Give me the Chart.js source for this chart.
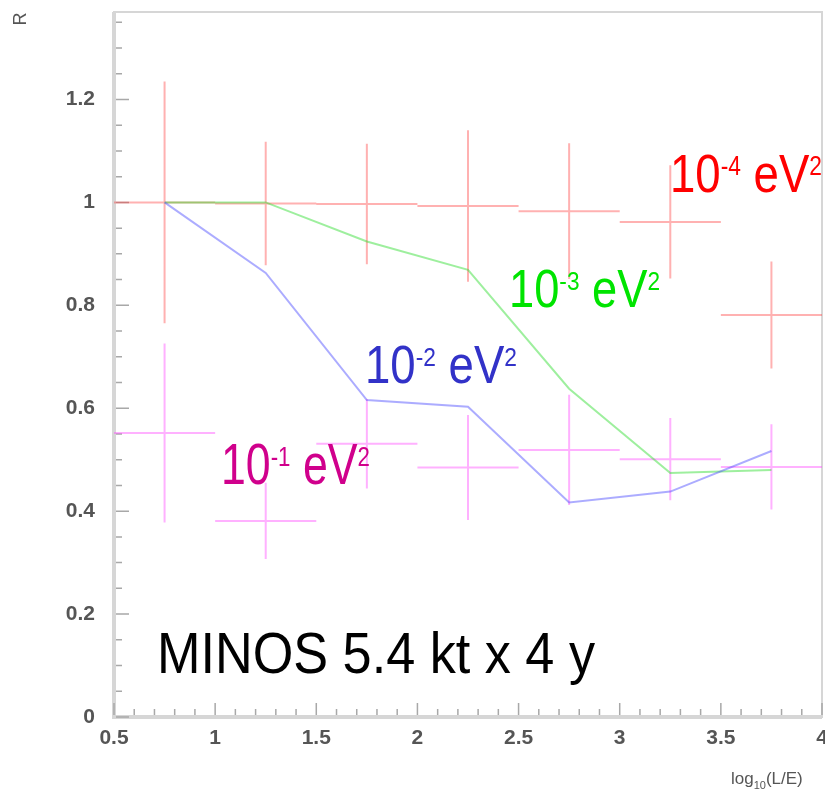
<!DOCTYPE html>
<html>
<head>
<meta charset="utf-8">
<title>R vs log10(L/E)</title>
<script src="https://cdn.jsdelivr.net/npm/chart.js@4.4.0/dist/chart.umd.min.js"></script>
<style>
  html, body { margin: 0; padding: 0; background: #fff; }
  #wrap { width: 825px; height: 793px; }
</style>
</head>
<body>
<div id="wrap"><canvas id="ratioChart" width="825" height="793"></canvas></div>
<script>
// bins in log10(L/E)
const binCenters = [0.75, 1.25, 1.75, 2.25, 2.75, 3.25, 3.75];
const binHalfWidth = 0.25;

// measured ratio with errors, two oscillation hypotheses
const ratioDm4 = [1.0, 0.998, 0.997, 0.993, 0.983, 0.962, 0.781];
const errDm4 = [0.235, 0.12, 0.117, 0.147, 0.132, 0.11, 0.104];
const ratioDm1 = [0.552, 0.381, 0.531, 0.485, 0.519, 0.501, 0.486];
const errDm1 = [0.174, 0.074, 0.087, 0.102, 0.107, 0.08, 0.083];

// expectation curves
const curveDm2 = [1.0, 0.863, 0.616, 0.603, 0.417, 0.438, 0.517];
const curveDm3 = [1.0, 1.0, 0.924, 0.869, 0.638, 0.474, 0.48];

// axes
const xTickValues = [0.5, 1, 1.5, 2, 2.5, 3, 3.5, 4];
const yTickValues = [0, 0.2, 0.4, 0.6, 0.8, 1, 1.2];

// labels: [base, exponent]
const labelDm4 = ['10', '-4'];
const labelDm3 = ['10', '-3'];
const labelDm2 = ['10', '-2'];
const labelDm1 = ['10', '-1'];
const caption = 'MINOS 5.4 kt x 4 y';

function crossPoints(values, errs) {
    const pts = [];
    binCenters.forEach(function(x, i) {
        pts.push({ x: x - binHalfWidth, y: values[i] });
        pts.push({ x: x + binHalfWidth, y: values[i] });
        pts.push({ x: x, y: null });
        pts.push({ x: x, y: values[i] - errs[i] });
        pts.push({ x: x, y: values[i] + errs[i] });
        pts.push({ x: x, y: null });
    });
    return pts;
}

function curvePoints(values) {
    return binCenters.map(function(x, i) { return { x: x, y: values[i] }; });
}

function fmt(v) { return String(+v.toFixed(2)); }

// no extra room for the end labels, keeps the frame where it belongs
function noPadding(scale) {
    scale.paddingTop = 0;
    scale.paddingBottom = 0;
    scale.paddingLeft = 0;
    scale.paddingRight = 0;
}

// rich text with superscripts, squeezed to a given width
function drawRich(ctx, parts, left, baseline, size, width, color) {
    const family = '"Liberation Sans", Arial, sans-serif';
    const supSize = size * 0.5;
    let natural = 0;
    parts.forEach(function(p) {
        ctx.font = (p.sup ? supSize : size) + 'px ' + family;
        natural += ctx.measureText(p.t).width;
    });
    ctx.save();
    ctx.translate(left, baseline);
    ctx.scale(width / natural, 1);
    ctx.fillStyle = color;
    ctx.textBaseline = 'alphabetic';
    ctx.textAlign = 'left';
    let x = 0;
    parts.forEach(function(p) {
        ctx.font = (p.sup ? supSize : size) + 'px ' + family;
        ctx.fillText(p.t, x, p.sup ? -size * 0.32 : 0);
        x += ctx.measureText(p.t).width;
    });
    ctx.restore();
}

function eV2(label) {
    return [{ t: label[0] }, { t: label[1], sup: true }, { t: ' eV' }, { t: '2', sup: true }];
}

const framePlugin = {
    id: 'frame',
    beforeDatasetsDraw: function(chart) {
        const ctx = chart.ctx;
        const a = chart.chartArea;
        const xs = chart.scales.x, ys = chart.scales.y;
        ctx.save();
        // box
        ctx.strokeStyle = '#d6d6d6';
        ctx.lineWidth = 2;
        ctx.strokeRect(a.left, a.top, a.right - a.left, a.bottom - a.top);
        ctx.lineWidth = 4;
        ctx.beginPath();
        ctx.moveTo(a.left, a.top);
        ctx.lineTo(a.left, a.bottom);
        ctx.lineTo(a.right, a.bottom);
        ctx.stroke();
        // inward ticks
        ctx.strokeStyle = '#a8a8a8';
        ctx.lineWidth = 1.5;
        ctx.beginPath();
        for (let k = 0; k <= 35; k++) {
            const v = 0.5 + k * 0.1;
            const px = xs.getPixelForValue(v);
            const len = (k % 5 === 0) ? 12 : 6;
            ctx.moveTo(px, a.bottom - 2);
            ctx.lineTo(px, a.bottom - 2 - len);
        }
        for (let k = 0; k <= 27; k++) {
            const v = k * 0.05;
            const py = ys.getPixelForValue(v);
            const len = (k % 4 === 0) ? 13 : 6;
            ctx.moveTo(a.left + 2, py);
            ctx.lineTo(a.left + 2 + len, py);
        }
        ctx.stroke();
        ctx.restore();
    },
    afterDatasetsDraw: function(chart) {
        const ctx = chart.ctx;
        drawRich(ctx, eV2(labelDm4), 670, 192, 54, 152, '#ff0000');
        drawRich(ctx, eV2(labelDm3), 509, 307, 53, 151, '#00e400');
        drawRich(ctx, eV2(labelDm2), 365, 383, 53, 152, '#3232c8');
        drawRich(ctx, eV2(labelDm1), 221, 484, 57, 149, '#d0008c');
        drawRich(ctx, [{ t: caption }], 157, 673, 57, 438, '#000000');

        // axis titles
        ctx.save();
        ctx.fillStyle = '#555';
        ctx.font = '18px "Liberation Sans", Arial, sans-serif';
        ctx.translate(26, 19);
        ctx.rotate(-Math.PI / 2);
        ctx.textAlign = 'center';
        ctx.textBaseline = 'alphabetic';
        ctx.fillText('R', 0, 0);
        ctx.restore();

        ctx.save();
        ctx.fillStyle = '#555';
        ctx.textBaseline = 'alphabetic';
        ctx.font = '17px "Liberation Sans", Arial, sans-serif';
        let x = 731;
        ctx.fillText('log', x, 784);
        x += ctx.measureText('log').width;
        ctx.font = '11px "Liberation Sans", Arial, sans-serif';
        ctx.fillText('10', x, 789);
        x += ctx.measureText('10').width;
        ctx.font = '17px "Liberation Sans", Arial, sans-serif';
        ctx.fillText('(L/E)', x, 784);
        ctx.restore();
    }
};

const tickFont = { family: '"Liberation Sans", Arial, sans-serif', size: 21, weight: 'bold' };

new Chart(document.getElementById('ratioChart'), {
    type: 'scatter',
    data: {
        datasets: [
            {
                label: labelDm2.join(''),
                data: curvePoints(curveDm2),
                showLine: true,
                borderColor: 'rgba(70,70,255,0.45)',
                borderWidth: 2,
                pointRadius: 0,
                order: 1
            },
            {
                label: labelDm3.join(''),
                data: curvePoints(curveDm3),
                showLine: true,
                borderColor: 'rgba(40,220,40,0.45)',
                borderWidth: 2,
                pointRadius: 0,
                order: 2
            },
            {
                label: labelDm1.join(''),
                data: crossPoints(ratioDm1, errDm1),
                showLine: true,
                spanGaps: false,
                borderColor: 'rgba(255,70,255,0.42)',
                borderWidth: 2,
                pointRadius: 0,
                order: 3
            },
            {
                label: labelDm4.join(''),
                data: crossPoints(ratioDm4, errDm4),
                showLine: true,
                spanGaps: false,
                borderColor: 'rgba(255,60,60,0.4)',
                borderWidth: 2,
                pointRadius: 0,
                order: 4
            }
        ]
    },
    options: {
        responsive: false,
        animation: false,
        layout: { padding: { top: 12, right: 3, left: 0, bottom: 0 } },
        plugins: {
            legend: { display: false },
            tooltip: { enabled: false }
        },
        scales: {
            x: {
                type: 'linear',
                min: 0.5,
                max: 4,
                afterBuildTicks: function(scale) {
                    scale.ticks = xTickValues.map(function(v) { return { value: v }; });
                },
                afterFit: function(scale) { scale.height = 76; noPadding(scale); },
                grid: { display: false, drawTicks: false },
                border: { display: false },
                ticks: {
                    color: '#555',
                    font: tickFont,
                    padding: 9,
                    maxRotation: 0,
                    autoSkip: false,
                    callback: fmt
                }
            },
            y: {
                type: 'linear',
                min: 0,
                max: 1.37,
                afterBuildTicks: function(scale) {
                    scale.ticks = yTickValues.map(function(v) { return { value: v }; });
                },
                afterFit: function(scale) { scale.width = 114; noPadding(scale); },
                grid: { display: false, drawTicks: false },
                border: { display: false },
                ticks: {
                    color: '#555',
                    font: tickFont,
                    padding: 19,
                    autoSkip: false,
                    callback: fmt
                }
            }
        }
    },
    plugins: [framePlugin]
});
</script>
</body>
</html>
